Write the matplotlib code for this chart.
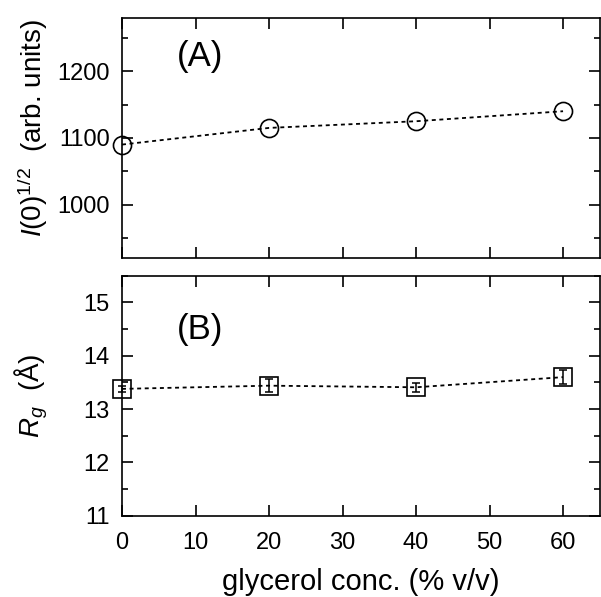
import numpy as np
import matplotlib
matplotlib.use("Agg")
import matplotlib.pyplot as plt
from matplotlib.ticker import MultipleLocator

plt.rcParams.update({"font.family": ["Liberation Sans", "DejaVu Sans"],
                     "mathtext.fontset": "custom",
                     "mathtext.rm": "Liberation Sans",
                     "mathtext.it": "Liberation Sans:italic",
                     "axes.linewidth": 1.2})

# glycerol series
glycerol = [0, 20, 40, 60]
sqrt_i0 = [1090, 1115, 1125, 1140]
rg = [13.38, 13.44, 13.41, 13.60]
rg_err = [0.06, 0.12, 0.08, 0.125]

fig = plt.figure(figsize=(6.01, 5.97), dpi=100)
ax_a = fig.add_axes([0.203, 0.568, 0.795, 0.402])
ax_b = fig.add_axes([0.203, 0.136, 0.795, 0.402])

dash = (0, (2.2, 2.0))
ax_a.plot(glycerol, sqrt_i0, ls=dash, lw=1.3, color="black", marker="o", ms=13,
          mfc="none", mec="black", mew=1.2, clip_on=False, zorder=3)
ax_b.plot(glycerol, rg, ls=dash, lw=1.3, color="black", marker="s", ms=13,
          mfc="none", mec="black", mew=1.2, clip_on=False, zorder=3)
ax_b.errorbar(glycerol, rg, yerr=rg_err, fmt="none", ecolor="black", elinewidth=1.1,
              capsize=2.8, capthick=1.1, clip_on=False, zorder=4)

ax_a.set_ylim(920, 1280)
ax_a.yaxis.set_major_locator(MultipleLocator(100))
ax_a.yaxis.set_minor_locator(MultipleLocator(50))
ax_b.set_ylim(11, 15.5)
ax_b.yaxis.set_major_locator(MultipleLocator(1))
ax_b.yaxis.set_minor_locator(MultipleLocator(0.5))

for ax in (ax_a, ax_b):
    ax.set_xlim(0, 65)
    ax.xaxis.set_major_locator(MultipleLocator(10))
    ax.tick_params(which="both", direction="in", top=True, right=True,
                   labelsize=17, width=1.2)
    ax.tick_params(axis="y", pad=9)
    ax.tick_params(axis="x", pad=12)
    ax.tick_params(which="major", length=8)
    ax.tick_params(which="minor", length=4.5)

ax_a.tick_params(labelbottom=False)
ax_a.set_yticks([1000, 1100, 1200])

ax_a.text(7.4, 1222, "(A)", fontsize=25, va="center", ha="left")
ax_b.text(7.4, 14.49, "(B)", fontsize=25, va="center", ha="left")

ax_a.set_ylabel(r"$I$(0)$^{1/2}$  (arb. units)", fontsize=20)
ax_b.set_ylabel(r"$R_g$  (Å)", fontsize=20)
ax_a.yaxis.set_label_coords(-0.15, 0.54)
ax_b.yaxis.set_label_coords(-0.15, 0.5)
ax_b.set_xlabel("glycerol conc. (% v/v)", fontsize=21, labelpad=10)

fig.savefig("out.png", dpi=100)
